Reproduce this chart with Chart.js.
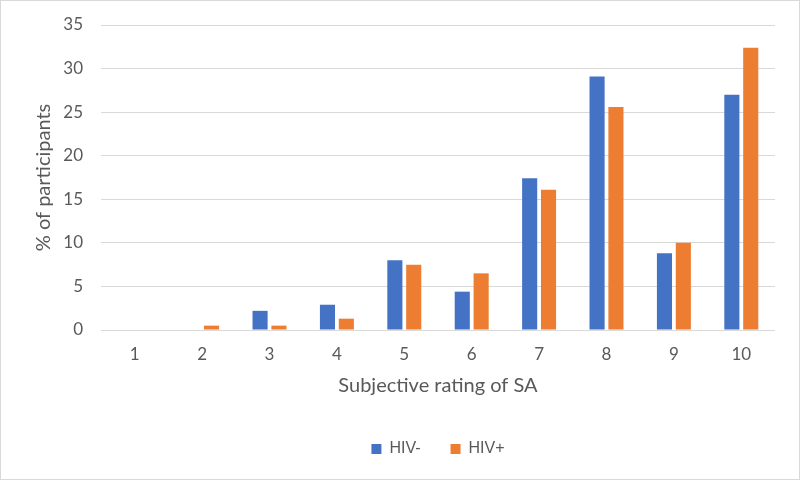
<!DOCTYPE html>
<html>
<head>
<meta charset="utf-8">
<script src="https://cdn.jsdelivr.net/npm/chart.js@4"></script>
<style>
  html, body { margin: 0; padding: 0; background: #fff; }
  #wrap { width: 800px; height: 480px; box-sizing: border-box; border: 1px solid #d9d9d9; }
  #chart { display: block; }
</style>
</head>
<body>
<div id="wrap"><canvas id="chart" width="798" height="478"></canvas></div>
<script>
//------------- DATA ------------------

const ratings = ['1', '2', '3', '4', '5', '6', '7', '8', '9', '10'];
const hivNeg = [0, 0, 2.2, 2.9, 8.0, 4.4, 17.4, 29.1, 8.8, 27.0];
const hivPos = [0, 0.5, 0.5, 1.3, 7.5, 6.5, 16.1, 25.6, 10.0, 32.4];
const yTicks = [0, 5, 10, 15, 20, 25, 30, 35];

const grey = '#595959';
const axisFont = 'Lato, "Open Sans", sans-serif';

const data = {
  labels: ratings,
  datasets: [{
    label: 'HIV-',
    data: hivNeg,
    backgroundColor: '#4472C4',
    categoryPercentage: 0.56,
    barPercentage: 0.8
  }, {
    label: 'HIV+',
    data: hivPos,
    backgroundColor: '#ED7D31',
    categoryPercentage: 0.56,
    barPercentage: 0.8
  }]
};

settings = {
  responsive: false,
  animation: false,
  layout: {
    padding: { top: 24, right: 24, bottom: 12, left: 0 }
  },
  scales: {
    x: {
      grid: { display: false, drawTicks: false },
      border: { display: false },
      ticks: { color: grey, font: { family: axisFont, size: 17 }, padding: 14 },
      title: {
        display: true,
        text: 'Subjective rating of SA',
        color: grey,
        font: { family: axisFont, size: 20 },
        padding: { top: 6, bottom: 13 }
      },
      afterFit: (scale) => { scale.height = 81; }
    },
    y: {
      min: 0,
      max: 35,
      grid: { color: '#d9d9d9', lineWidth: 1, drawTicks: false },
      border: { display: false },
      afterBuildTicks: (scale) => { scale.ticks = yTicks.map(v => ({ value: v })); },
      ticks: { color: grey, font: { family: axisFont, size: 17 }, padding: 18 },
      title: {
        display: true,
        text: '% of participants',
        color: grey,
        font: { family: axisFont, size: 20 },
        padding: { top: 31, bottom: 0 }
      },
      afterFit: (scale) => {
        scale.width = 100;
        scale.paddingTop = 0;
      }
    }
  },
  plugins: {
    legend: {
      position: 'bottom',
      fullSize: false,
      labels: {
        boxWidth: 10,
        boxHeight: 10,
        padding: 30,
        color: grey,
        font: { family: '"Liberation Sans", Arial, sans-serif', size: 16 }
      }
    },
    tooltip: { enabled: false }
  }
};

const ctx = document.getElementById('chart');
const chart = new Chart(ctx, { type: 'bar', data: data, options: settings });
</script>
</body>
</html>
